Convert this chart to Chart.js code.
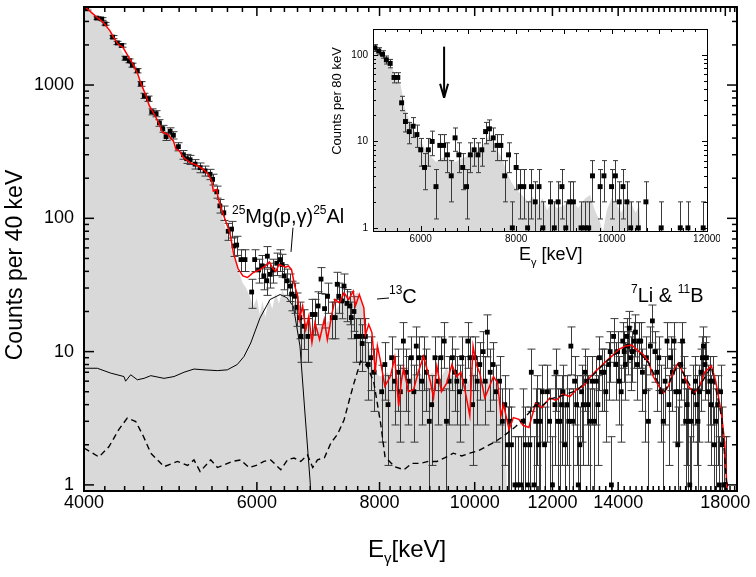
<!DOCTYPE html>
<html>
<head>
<meta charset="utf-8">
<script src="https://cdn.jsdelivr.net/npm/chart.js@4.4.0/dist/chart.umd.min.js"></script>
<style>
  html, body { margin: 0; padding: 0; background: #fff; }
  #wrap { position: relative; width: 756px; height: 577px; }
  #main { position: absolute; left: 0; top: 0; }
  #inset { position: absolute; left: 320px; top: 20px; }
</style>
</head>
<body>
<div id="wrap">
  <canvas id="main" width="756" height="577"></canvas>
  <canvas id="inset" width="400" height="260"></canvas>
</div>
<script>
// ---- main spectrum: measured counts per 40 keV ----
const dataE = [4025,4121,4170,4202,4278,4325,4370,4404,4448,4480,4533,4569,4608,4652,4689,4737,4774,4812,4849,4895,
  4933,4991,5050,5090,5130,5190,5252,5313,5376,5408,5461,5501,5552,5610,5654,5686,5722,5780,5835,5927,
  5969,6023,6073,6098,6141,6149,6192,6231,6287,6339,6366,6397,6442,6486,6509,6554,6590,6636,6654,6701,
  6761,6831,6878,6926,6974,7032,7081,7160,7210,7244,7270,7320,7360,7411,7463,7487,7534,7575,7644,7681,
  7739,7790,7840,7900,
  8040,8100,8160,8230,8290,8350,8400,8460,8510,8560,8620,8670,8720,8770,8830,8880,8930,8990,9040,9110,
  9180,9240,9310,9360,9420,9490,9540,9590,9650,9700,9770,9840,9890,9950,10000,10060,10120,10200,10250,10300,
  10370,10440,10520,10600,10670,10730,10800,10850,10900,10990,11060,11140,11200,11260,11320,11380,11420,11490,11540,11580,
  11620,11660,11720,11780,11860,11920,12000,12070,12100,12150,12210,12260,12300,12350,12410,12470,12530,12580,12640,12700,
  12750,12800,12850,12900,12950,13000,13050,13100,13170,13240,13300,13350,13400,13470,13540,13600,13690,13740,13780,13850,
  13920,13980,14040,14100,14150,14200,14240,14280,14330,14370,14420,14470,14530,14580,14640,14690,14760,14820,14900,14960,
  15030,15100,15170,15260,15330,15400,15480,15560,15630,15700,15770,15830,15900,15960,16030,16100,16140,16210,16280,16340,
  16400,16460,16500,16560,16620,16700,16780,16830,16880,16940,17000,17060,17100,17160,17220,17290,17360,17420,17480,17540,
  17600,17680,17750,17800,17870,17950,18010];
const dataV = [3730,3180,3130,2880,2290,2070,1980,1590,1520,1410,1280,1020,830,790,630,610,520,470,410,450,
  420,345,300,280,275,255,240,227,214,196,158,124,110,80,83,62,63,49,49,28,
  49,41,44,37,34,52,38,41,46,49,45,37,34,31,27,26,21.5,18,13,15.5,
  13,19,19,22,35,21,26,18,18,32,26,24,31,23,22,18,20,13,13,11.5,
  13,8,9,7,
  5,8,4,9,6,7,5,12,7,6,9,5,11,9,6,9,7,3,4,9,
  6,9,12,3,6,9,7,6,5,9,6,12,9,4,9,6,8,10,6,14,
  7,8,5,6,3,4,2,3,2,1,1,1,3,2,1,2,7,1,3,4,
  2,3,5,2,5,3,1,4,7,3,3,4,5,2,4,3,11,3,6,4,
  1,2,5,4,7,6,4,3,6,3,6,4,9,7,7,5,8,10,1,13,
  8,10,6,5,12,10,8,13,11,15,9,10,12,14,8,12,12,7,5,9,
  3,11,17,10,7,9,5,3,6,12,4,9,7,12,5,2,5,8,12,6,
  3,4,3,1,3,5,6,4,3,5,7,9,11,8,9,5,6,4,6,2,
  3,4,1,5,2,1,1];

// total simulation (red)
const fitE = [4000,4025,4104,4183,4250,4282,4332,4382,4433,4485,4537,4573,4619,4662,4716,4771,4809,4864,4933,4963,
  5002,5050,5130,5210,5291,5353,5397,5417,5461,5482,5550,5632,5678,5740,5806,5870,5943,6040,6123,6179,
  6230,6272,6320,6366,6420,6461,6509,6557,6605,6630,6679,6728,6777,6827,6876,6951,7027,7078,7154,7205,
  7283,7361,7440,7520,7560,7629,7711,7739,7800,7858,7920,7960,8012,8100,8205,8290,8367,8420,8465,8560,
  8666,8760,8870,9010,9080,9150,9250,9365,9480,9585,9680,9772,9886,9962,10040,10120,10240,10355,10450,10555,
  10634,10700,10840,10950,11095,11200,11355,11535,11700,11928,12100,12300,12500,12700,12900,13100,13300,13500,13664,13850,
  14050,14260,14450,14700,14850,15040,15200,15400,15570,15750,15950,16120,16300,16500,16750,16950,17150,17420,17600,17850,
  17980,18060,18120];
const fitV = [3900,3770,3320,2960,2560,2320,2030,1920,1660,1440,1210,1020,855,700,606,510,441,428,381,330,
  321,286,262,250,233,214,191,160,165,139,105,78,55,42,37,36,39,41,44,47,
  42,40,45,44,43,44,41,31,26,17.4,22,14.6,18.4,11.7,16.5,12.3,17.4,12.3,19,24.6,
  23.2,27.6,24.6,28.4,22,26.8,21.3,13.4,16,13.9,7,11,8.7,5.5,6.5,9,3.9,6,7.5,5,
  5.2,7,9.2,6,4.5,7.8,5,5.8,8,6.5,7,5.2,3.3,11,8,6.9,4.5,5.5,6.5,5.8,
  3.3,4,2.6,3.2,3.1,2.8,2.7,4.1,3.8,4.5,4.3,4.8,4.6,5.2,5.5,6.4,7.2,8,8.7,9.5,
  10.5,11,11.2,10,9.5,8.3,6.5,5.5,4.9,5.5,7.2,8.2,7,5.5,4.9,5.5,7,7.8,6,3.3,
  2,1,0.5];

// 25Mg(p,g)25Al component (thin solid)
const solidE = [4000,4127,4258,4393,4410,4463,4533,4605,4678,4826,4940,5057,5177,5300,5469,5598,5730,5822,5914,6044,
  6188,6335,6435,6536,6638,6716,6796,6830];
const solidV = [7.5,7.5,6.9,6.5,6.0,6.7,6.15,6.3,6.6,6.3,6.5,7.0,7.4,7.3,7.2,7.3,8.0,9.2,11.6,17.9,
  24.6,26.8,25.4,21.9,11,3.46,1.09,0.6];

// 13C / 7Li / 11B component (dashed)
const dashE = [4000,4143,4242,4340,4427,4516,4600,4678,4826,4979,5100,5177,5252,5384,5470,5554,5660,5775,5890,6005,
  6100,6198,6346,6450,6547,6650,6756,6840,6916,7030,7136,7250,7362,7450,7534,7654,7774,7896,8020,8103,
  8284,8470,8630,8800,8970,9150,9330,9510,9700,9886,10080,10270,10480,10680,11010,11200,11355,11535,11700,11928,
  12300,12700,13100,13500,13850,14260,14700,15040,15570,16120,16750,17420,17850,18060,18120];
const dashV = [1.89,1.62,1.94,2.6,3.17,2.99,2.3,1.73,1.37,1.5,1.4,1.54,1.26,1.54,1.35,1.41,1.5,1.54,1.35,1.41,
  1.5,1.54,1.3,1.55,1.59,1.5,1.68,1.35,1.54,1.6,2.06,2.4,3.08,4.3,5.8,8.5,7.8,5.8,2.9,1.63,
  1.37,1.3,1.45,1.45,1.5,1.5,1.6,1.73,1.65,1.73,1.8,1.94,2.1,2.3,2.74,3.1,3.46,4,3.9,4.4,
  4.7,5.1,6.3,7.9,9.4,10.8,9.9,8.2,4.8,8.1,4.8,7.7,3.2,1,0.5];

// laboratory background (grey area)
const bgE = [4000,4100,4200,4300,4400,4500,4600,4700,4800,4900,5000,5100,5200,5300,5380,5450,5500,5600,5680,5750,
  5800,5850,5900,5950,6000,6040,6080,6120,6170,6220,6270,6320,6370,6420,6470,6520,6570,6610,6650,6700,
  6760,6820,6900,7000,7100,7200,7300,7400,7500,7600,7680,7740,7800,7860,7920,8000,8150,8300,8450,8600,
  8750,8900,9050,9200,9350,9500,9650,9800,9950,10100,10250,10400,10550,10620,10660,10700,10760,10800];
const bgV = [3900,3350,2900,2250,1650,1350,880,650,480,420,310,270,245,220,200,160,120,75,52,40,
  33,30,26,22,25,19,24,18,25,21,27,23,29,25,28,23,25,19,16,15,
  17,14,15,16,17,20,23,27,25,28,23,17,11,8.5,7,6.5,7,6,8,6,
  7.5,6,7,6,7.5,6.5,7,5.5,7,6.5,6,6.5,5.5,4,3.5,4.5,2,0.5];

const xTickVals = [4000, 6000, 8000, 10000, 12000, 14000, 18000];
const yTickVals = [1, 10, 100, 1000];

// ---- inset: counts per 80 keV ----
const insetE = [5040,5120,5200,5280,5360,5440,5520,5600,5680,5760,5840,5920,6000,6080,6160,6240,6320,6400,6480,6560,
  6640,6720,6800,6880,6960,7040,7120,7200,7280,7360,7440,7520,7600,7680,7760,7840,7920,8000,8080,8160,
  8240,8320,8400,8480,8560,8720,8800,8880,8960,9040,9120,9200,9360,9440,9520,9600,9760,9840,10000,10080,
  10160,10240,10320,10400,10560,10720,11040,11440,11600,11920];
const insetCounts = [121,111,102,88,80,55,55,28,17,13,15,12,8,5,8,10,3,9,9,7,
  4,11,7,5,3,7,8,7,8,13,14,11,9,9,4,7,1,5,3,3,
  1,3,2,3,1,2,1,2,3,1,2,2,1,1,1,4,3,4,3,4,
  2,3,2,1,1,2,1,1,1,1];
const insetBgE = [5000,5100,5200,5300,5400,5450,5500,5580,5670,5750,5820,5900,5990,6070,6150,6230,6320,6420,6520,6620,
  6730,6840,6940,7050,7150,7260,7360,7430,7500,7560,7630,7700,7770,7830,7900,7980,8060,8150,8250,8350,
  8450,8550,8650,8750,8850,9000,9150,9300,9450,9550,9650,9750,9820,9900,10000,10100,10200,10300,10400,10500,
  10580,10620];
const insetBgV = [135,118,102,88,70,62,52,45,24,18,15.5,12,10.4,8.5,7.5,6.5,5.8,6.4,6.6,6.2,
  5.8,6.3,6.6,7,7.5,8.5,9.9,11.9,10.5,9,7.5,6.4,5,4.1,3.4,2.9,2.6,2.3,2.0,2.3,
  1.8,2.2,1.6,2.0,1.7,1.8,2.1,1.7,2.2,2.4,1.6,1.2,0.9,1.6,2.2,1.9,1.5,1.9,2.0,1.5,
  1.8,0.8];
const insetXTicks = [6000, 8000, 10000, 12000];
const insetYTicks = [1, 10, 100];
const arrowE = 6490;

const FONT = '"Liberation Sans", Arial, Helvetica, sans-serif';

function pairs(xs, ys) {
  return xs.map((x, i) => ({ x: x, y: ys[i] }));
}

function seg(ctx, x1, y1, x2, y2) {
  ctx.beginPath();
  ctx.moveTo(x1, y1);
  ctx.lineTo(x2, y2);
  ctx.stroke();
}

// text with super/subscripts: parts = [text, size, dy]
function richText(ctx, x, y, parts) {
  parts.forEach(p => {
    ctx.font = p[1] + 'px ' + FONT;
    ctx.fillText(p[0], x, y + p[2]);
    x += ctx.measureText(p[0]).width;
  });
}

// keep the plot box exactly where the layout padding puts it
function noScalePadding(s) {
  s.paddingTop = 0;
  s.paddingBottom = 0;
  s.paddingLeft = 0;
  s.paddingRight = 0;
}

function errorBars(id, xs, ys, k, cap, dsIndex) {
  return {
    id: id,
    beforeDatasetDraw(chart, args) {
      if (args.index !== dsIndex) return;
      const { ctx, chartArea: a, scales: { x, y } } = chart;
      ctx.save();
      ctx.beginPath();
      ctx.rect(a.left, a.top, a.right - a.left, a.bottom - a.top);
      ctx.clip();
      ctx.strokeStyle = '#3a3a3a';
      ctx.lineWidth = 1;
      xs.forEach((e, i) => {
        const v = ys[i];
        const err = k * Math.sqrt(v);
        const px = Math.round(x.getPixelForValue(e)) + 0.5;
        const top = y.getPixelForValue(v + err);
        const lo = v - err;
        const bot = lo > 0 ? y.getPixelForValue(lo) : a.bottom + 5;
        ctx.beginPath();
        ctx.moveTo(px, top); ctx.lineTo(px, bot);
        ctx.moveTo(px - cap, top); ctx.lineTo(px + cap, top);
        if (lo > 0) { ctx.moveTo(px - cap, bot); ctx.lineTo(px + cap, bot); }
        ctx.stroke();
      });
      ctx.restore();
    }
  };
}

function logMinorVals(min, max) {
  const out = [];
  for (let d = 0.1; d <= max; d *= 10) {
    for (let m = 1; m < 10; m++) {
      const v = Math.round(m * d * 1000) / 1000;
      if (v >= min && v <= max) out.push({ v: v, major: m === 1 });
    }
  }
  return out;
}

const mainFrame = {
  id: 'mainFrame',
  afterDraw(chart) {
    const { ctx, chartArea: a, scales: { x, y } } = chart;
    ctx.save();
    ctx.strokeStyle = '#000';
    ctx.fillStyle = '#000';
    ctx.lineWidth = 1.5;
    for (let e = 4200; e < 18500; e += 200) {
      const px = x.getPixelForValue(e);
      const len = xTickVals.includes(e) ? 9 : 5;
      seg(ctx, px, a.bottom, px, a.bottom - len);
      seg(ctx, px, a.top, px, a.top + len);
    }
    logMinorVals(y.min, y.max).forEach(t => {
      const py = y.getPixelForValue(t.v);
      const len = t.major ? 10 : 5;
      seg(ctx, a.left, py, a.left + len, py);
      seg(ctx, a.right, py, a.right - len, py);
    });
    ctx.lineWidth = 2;
    ctx.strokeRect(a.left, a.top, a.right - a.left, a.bottom - a.top);

    // annotations
    ctx.lineWidth = 1;
    seg(ctx, x.getPixelForValue(6530), y.getPixelForValue(85), x.getPixelForValue(6500), y.getPixelForValue(56));
    seg(ctx, 377, 299, 389, 298);
    ctx.textAlign = 'left';
    ctx.textBaseline = 'alphabetic';
    richText(ctx, 232, 223, [['25', 12, -9], ['Mg(p,\u03b3)', 20, 0], ['25', 12, -9], ['Al', 20, 0]]);
    richText(ctx, 389, 303, [['13', 12, -9], ['C', 20, 0]]);
    richText(ctx, 631, 302, [['7', 12, -9], ['Li & ', 20, 0], ['11', 12, -9], ['B', 20, 0]]);

    // axis titles
    richText(ctx, 368, 557, [['E', 24, 0], ['\u03b3', 15, 6], ['[keV]', 24, 0]]);
    ctx.save();
    ctx.translate(22, 265);
    ctx.rotate(-Math.PI / 2);
    ctx.textAlign = 'center';
    ctx.font = '23px ' + FONT;
    ctx.fillText('Counts per 40 keV', 0, 0);
    ctx.restore();
    ctx.restore();
  }
};

const insetBackdrop = {
  id: 'insetBackdrop',
  beforeDraw(chart) {
    const { ctx, chartArea: a } = chart;
    ctx.save();
    ctx.fillStyle = '#fff';
    ctx.fillRect(a.left, a.top, a.right - a.left, a.bottom - a.top);
    ctx.restore();
  }
};

const insetFrame = {
  id: 'insetFrame',
  afterDraw(chart) {
    const { ctx, chartArea: a, scales: { x, y } } = chart;
    ctx.save();
    ctx.strokeStyle = '#000';
    ctx.fillStyle = '#000';
    ctx.lineWidth = 1;
    for (let e = 5250; e < 12000; e += 250) {
      const px = Math.round(x.getPixelForValue(e)) + 0.5;
      const len = e % 1000 === 0 ? 5 : 3;
      seg(ctx, px, a.bottom, px, a.bottom - len);
      seg(ctx, px, a.top, px, a.top + len);
    }
    logMinorVals(y.min, y.max).forEach(t => {
      const py = Math.round(y.getPixelForValue(t.v)) + 0.5;
      const len = t.major ? 5 : 3;
      seg(ctx, a.left, py, a.left + len, py);
      seg(ctx, a.right, py, a.right - len, py);
    });
    ctx.strokeRect(a.left + 0.5, a.top + 0.5, a.right - a.left, a.bottom - a.top);

    // arrow marking the 25Al resonance region
    const ax = x.getPixelForValue(arrowE);
    const ay1 = y.getPixelForValue(125);
    const ay2 = y.getPixelForValue(32);
    ctx.lineWidth = 2;
    seg(ctx, ax, ay1, ax, ay2);
    seg(ctx, ax - 4, ay2 - 14, ax, ay2);
    seg(ctx, ax + 4, ay2 - 14, ax, ay2);

    ctx.textAlign = 'left';
    ctx.textBaseline = 'alphabetic';
    richText(ctx, 199, 240, [['E', 18, 0], ['\u03b3', 11, 6], [' [keV]', 18, 0]]);
    ctx.save();
    ctx.translate(21, 81);
    ctx.rotate(-Math.PI / 2);
    ctx.textAlign = 'center';
    ctx.font = '13px ' + FONT;
    ctx.fillText('Counts per 80 keV', 0, 0);
    ctx.restore();
    ctx.restore();
  }
};

// main chart
new Chart(document.getElementById('main'), {
  type: 'line',
  data: {
    datasets: [
      { label: 'dashed', data: pairs(dashE, dashV), borderColor: '#000', borderWidth: 1.4, borderDash: [6, 4],
        pointRadius: 0, fill: false, order: 0 },
      { label: 'fit', data: pairs(fitE, fitV), borderColor: '#ff0000', borderWidth: 1.5, pointRadius: 0, fill: false, order: 1 },
      { label: 'data', data: pairs(dataE, dataV), showLine: false, pointStyle: 'rect', pointRadius: 3.4,
        pointBackgroundColor: '#000', pointBorderWidth: 0, order: 2 },
      { label: 'solid', data: pairs(solidE, solidV), borderColor: '#000', borderWidth: 1, pointRadius: 0, fill: false, order: 3 },
      { label: 'bg', data: pairs(bgE, bgV), borderWidth: 0, borderColor: 'rgba(0,0,0,0)', backgroundColor: '#d9d9d9',
        fill: 'start', pointRadius: 0, order: 10 }
    ]
  },
  options: {
    responsive: false,
    animation: false,
    events: [],
    layout: { padding: { top: 7, right: 19, left: 0, bottom: 0 } },
    plugins: { legend: { display: false }, tooltip: { enabled: false } },
    scales: {
      x: {
        type: 'logarithmic', min: 4000, max: 18500,
        grid: { display: false, drawTicks: false }, border: { display: false },
        ticks: { color: '#000', font: { family: FONT, size: 18 }, padding: 1, autoSkip: false, maxRotation: 0,
          callback: v => String(v) },
        afterBuildTicks: s => { s.ticks = xTickVals.map(v => ({ value: v })); },
        afterFit: s => { s.height = 86; noScalePadding(s); }
      },
      y: {
        type: 'logarithmic', min: 0.9, max: 3850,
        grid: { display: false, drawTicks: false }, border: { display: false },
        ticks: { color: '#000', font: { family: FONT, size: 18 }, padding: 10, autoSkip: false,
          callback: v => String(v) },
        afterBuildTicks: s => { s.ticks = yTickVals.map(v => ({ value: v })); },
        afterFit: s => { s.width = 84; noScalePadding(s); }
      }
    }
  },
  plugins: [errorBars('mainErr', dataE, dataV, 1.3, 4, 2), mainFrame]
});

// inset chart
new Chart(document.getElementById('inset'), {
  type: 'line',
  data: {
    datasets: [
      { label: 'inset data', data: pairs(insetE, insetCounts), showLine: false, pointStyle: 'rect', pointRadius: 3.5,
        pointBackgroundColor: '#000', pointBorderWidth: 0, order: 0 },
      { label: 'inset bg', data: pairs(insetBgE, insetBgV), borderWidth: 0, borderColor: 'rgba(0,0,0,0)',
        backgroundColor: '#d9d9d9', fill: 'start', pointRadius: 0, order: 5 }
    ]
  },
  options: {
    responsive: false,
    animation: false,
    events: [],
    layout: { padding: { top: 9, right: 13, left: 0, bottom: 0 } },
    plugins: { legend: { display: false }, tooltip: { enabled: false } },
    scales: {
      x: {
        type: 'linear', min: 5000, max: 12000,
        grid: { display: false, drawTicks: false }, border: { display: false },
        ticks: { color: '#000', font: { family: FONT, size: 10 }, padding: 2, autoSkip: false, maxRotation: 0,
          callback: v => String(v) },
        afterBuildTicks: s => { s.ticks = insetXTicks.map(v => ({ value: v })); },
        afterFit: s => { s.height = 49; noScalePadding(s); }
      },
      y: {
        type: 'logarithmic', min: 0.92, max: 200,
        grid: { display: false, drawTicks: false }, border: { display: false },
        ticks: { color: '#000', font: { family: FONT, size: 10 }, padding: 5, autoSkip: false,
          callback: v => String(v) },
        afterBuildTicks: s => { s.ticks = insetYTicks.map(v => ({ value: v })); },
        afterFit: s => { s.width = 53; noScalePadding(s); }
      }
    }
  },
  plugins: [insetBackdrop, errorBars('insetErr', insetE, insetCounts, 1, 2.5, 0), insetFrame]
});
</script>
</body>
</html>
